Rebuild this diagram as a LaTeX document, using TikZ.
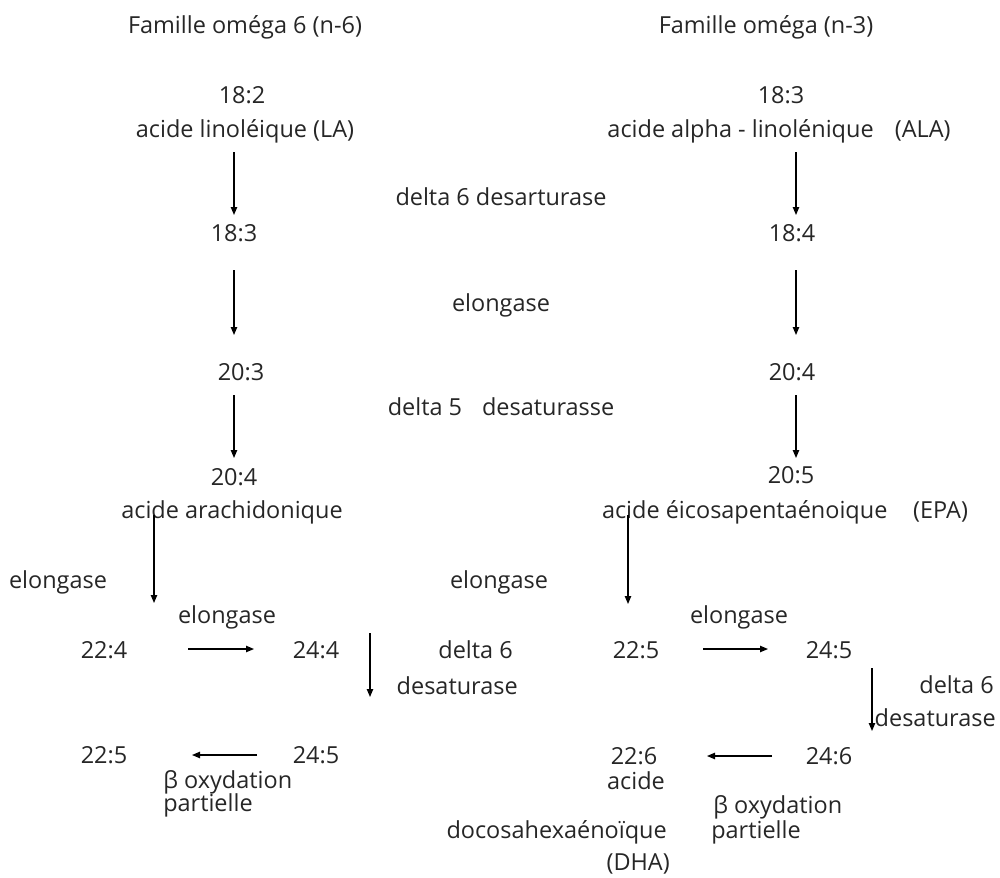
\documentclass[tikz,border=0pt]{standalone}
\usepackage{fontspec}
\setmainfont{Open Sans}
\usetikzlibrary{arrows.meta}
\definecolor{txt}{HTML}{262626}
\tikzset{
  lbl/.style={text=txt, inner sep=0pt, anchor=base, font=\fontsize{17.6}{21}\selectfont},
  arr/.style={-{Triangle[length=6pt,width=4.8pt]}, line width=0.9pt, black}
}
\begin{document}
\begin{tikzpicture}[x=0.75pt,y=-0.75pt]
\useasboundingbox (0,0) rectangle (1000,878);
% titles
\node[lbl] (t1) at (245,33) {Famille oméga 6 (n-6)};
\node[lbl] (t2) at (766,33) {Famille oméga (n-3)};
% left column
\node[lbl] (l182) at (242,103) {18:2};
\node[lbl] (lla) at (245,137) {acide linoléique (LA)};
\node[lbl] (l183) at (234,241) {18:3};
\node[lbl] (l203) at (241,380) {20:3};
\node[lbl] (l204) at (234,485) {20:4};
\node[lbl] (laa) at (232,518) {acide arachidonique};
% right column
\node[lbl] (r183) at (781,103) {18:3};
\node[lbl] (rala) at (779,137) {acide alpha - linolénique\hspace{0.9em}(ALA)};
\node[lbl] (r184) at (792,241) {18:4};
\node[lbl] (r204) at (792,380) {20:4};
\node[lbl] (r205) at (791,483) {20:5};
\node[lbl] (repa) at (785,518) {acide éicosapentaénoique\hspace{1.1em}(EPA)};
% middle enzymes
\node[lbl] (e1) at (501,205) {delta 6 desarturase};
\node[lbl] (e2) at (501,311) {elongase};
\node[lbl] (e3) at (501,415) {delta 5\hspace{0.85em}desaturasse};
% column arrows
\coordinate (a1s) at (234,152); \coordinate (a1e) at (234,215);
\coordinate (a2s) at (234,270); \coordinate (a2e) at (234,335);
\coordinate (a3s) at (234,395); \coordinate (a3e) at (234,458);
\coordinate (b1s) at (796,152); \coordinate (b1e) at (796,215);
\coordinate (b2s) at (796,270); \coordinate (b2e) at (796,335);
\coordinate (b3s) at (796,395); \coordinate (b3e) at (796,458);
\draw[arr] (a1s) -- (a1e);
\draw[arr] (a2s) -- (a2e);
\draw[arr] (a3s) -- (a3e);
\draw[arr] (b1s) -- (b1e);
\draw[arr] (b2s) -- (b2e);
\draw[arr] (b3s) -- (b3e);
% lower left
\node[lbl] (el1) at (58,588) {elongase};
\coordinate (c1s) at (154,515); \coordinate (c1e) at (154,603);
\draw[arr] (c1s) -- (c1e);
\node[lbl] (el2) at (227,623) {elongase};
\node[lbl] (l224) at (104,658) {22:4};
\node[lbl] (l244) at (316,658) {24:4};
\coordinate (c2s) at (188,649); \coordinate (c2e) at (254,649);
\draw[arr] (c2s) -- (c2e);
\coordinate (c3s) at (370,633); \coordinate (c3e) at (370,697);
\draw[arr] (c3s) -- (c3e);
\node[lbl, anchor=base east] (d6a) at (513,658) {delta 6};
\node[lbl, anchor=base east] (dsa) at (518,694) {desaturase};
\node[lbl] (l225) at (104,763) {22:5};
\node[lbl] (l245) at (316,763) {24:5};
\coordinate (c4s) at (257,755); \coordinate (c4e) at (192,755);
\draw[arr] (c4s) -- (c4e);
\node[lbl, anchor=base west] (bo1) at (163,788) {β oxydation};
\node[lbl, anchor=base west] (pa1) at (163,811) {partielle};
% lower right
\node[lbl] (el3) at (499,588) {elongase};
\coordinate (d1s) at (628,515); \coordinate (d1e) at (628,604);
\draw[arr] (d1s) -- (d1e);
\node[lbl] (el4) at (739,623) {elongase};
\node[lbl] (r225) at (636,658) {22:5};
\node[lbl] (r245) at (829,658) {24:5};
\coordinate (d2s) at (703,649); \coordinate (d2e) at (768,649);
\draw[arr] (d2s) -- (d2e);
\coordinate (d3s) at (872,668); \coordinate (d3e) at (872,731);
\draw[arr] (d3s) -- (d3e);
\node[lbl, anchor=base east] (d6b) at (994,693) {delta 6};
\node[lbl, anchor=base east] (dsb) at (996,726) {desaturase};
\node[lbl] (r226) at (634,764) {22:6};
\node[lbl] (rac) at (636,789) {acide};
\node[lbl] (r246) at (829,764) {24:6};
\coordinate (d4s) at (772,756); \coordinate (d4e) at (707,756);
\draw[arr] (d4s) -- (d4e);
\node[lbl, anchor=base west] (bo2) at (713,813) {β oxydation};
\node[lbl, anchor=base west] (pa2) at (711,838) {partielle};
\node[lbl, anchor=base east] (doc) at (667,838) {docosahexaénoïque};
\node[lbl, anchor=base east] (dha) at (670,870) {(DHA)};
\end{tikzpicture}
\end{document}
